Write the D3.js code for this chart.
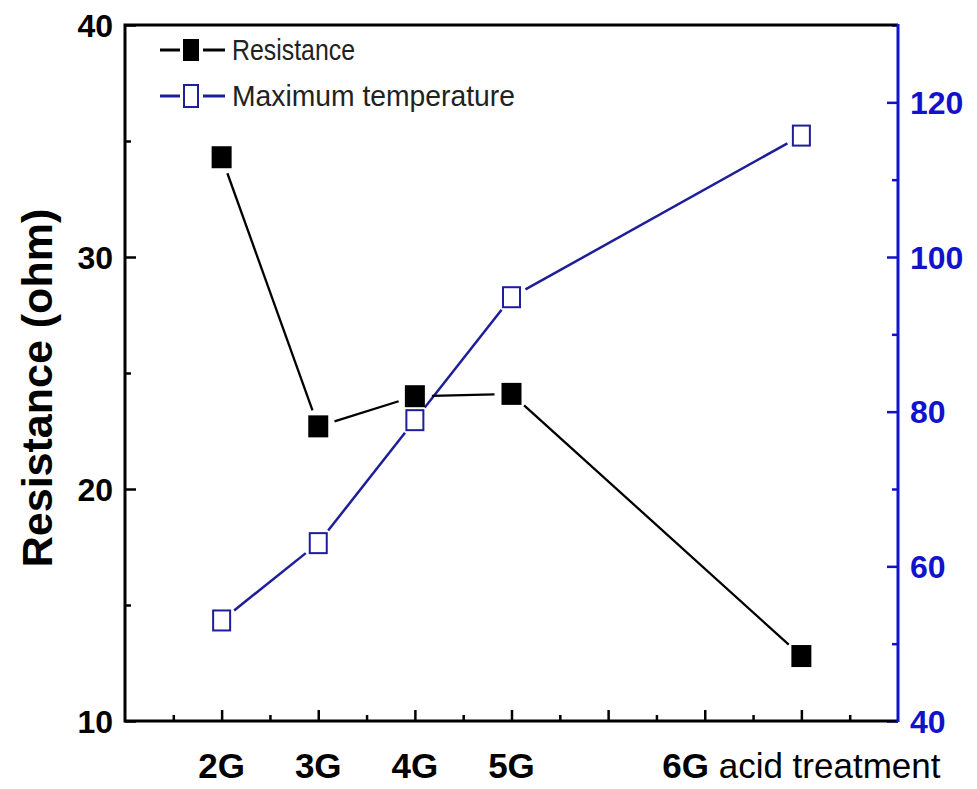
<!DOCTYPE html>
<html>
<head>
<meta charset="utf-8">
<script src="https://cdn.jsdelivr.net/npm/d3@7"></script>
<style>
  body { margin: 0; background: #fff; }
  text { font-family: "Liberation Sans", Arial, sans-serif; }
</style>
</head>
<body>
<script>
// data
var samples = ["2G", "3G", "4G", "5G", "6G"];
var samplePos = [2, 3, 4, 5, 8];
var resistance = [34.3, 22.7, 24.0, 24.1, 12.8];
var maxTemp = [53, 63, 78.9, 94.8, 115.7];
var leftTicks = [10, 20, 30, 40];
var rightTicks = [40, 60, 80, 100, 120];

var W = 977, H = 789;
var margin = { top: 25, right: 79, bottom: 68, left: 125 },
    width = W - margin.left - margin.right,
    height = H - margin.top - margin.bottom;

var blueAxis = "#1212cc", blueLine = "#1e1e9a";

var svg = d3.select("body").append("svg")
    .attr("width", W)
    .attr("height", H);

var g = svg.append("g")
    .attr("transform", "translate(" + margin.left + "," + margin.top + ")");

var xScale = d3.scaleLinear().domain([1, 9]).range([0, width]);
var yLeft = d3.scaleLinear().domain([10, 40]).range([height, 0]);
var yRight = d3.scaleLinear().domain([40, 130]).range([height, 0]);

// minor ticks first, then major ticks with labels
function minor(axis, vals, len) {
    return axis.tickValues(vals).tickSize(len).tickFormat("");
}

var xMinor = d3.range(1.5, 9, 1);
var xMajor = d3.range(2, 9, 1);

g.append("g").attr("class", "xminor")
    .attr("transform", "translate(0," + height + ")")
    .call(minor(d3.axisTop(xScale), xMinor, 6));
g.append("g").attr("class", "xmajor")
    .attr("transform", "translate(0," + height + ")")
    .call(d3.axisTop(xScale).tickValues(xMajor).tickSize(11).tickFormat(""));

g.append("g").attr("class", "lminor")
    .call(minor(d3.axisRight(yLeft), [15, 25, 35], 6));
g.append("g").attr("class", "lmajor")
    .call(d3.axisRight(yLeft).tickValues(leftTicks).tickSize(11).tickFormat(""));

g.append("g").attr("class", "rminor")
    .attr("transform", "translate(" + width + ",0)")
    .call(minor(d3.axisLeft(yRight), [50, 70, 90, 110, 130], 6));
g.append("g").attr("class", "rmajor")
    .attr("transform", "translate(" + width + ",0)")
    .call(d3.axisLeft(yRight).tickValues(rightTicks).tickSize(11).tickFormat(""));

g.selectAll(".domain").remove();
g.selectAll(".tick line").attr("stroke-width", 2.5);
g.selectAll(".xminor .tick line, .xmajor .tick line, .lminor .tick line, .lmajor .tick line").attr("stroke", "#000");
g.selectAll(".rminor .tick line, .rmajor .tick line").attr("stroke", blueAxis);

// frame
g.append("path")
    .attr("d", "M" + width + ",0H0V" + height + "H" + width)
    .attr("fill", "none").attr("stroke", "#000").attr("stroke-width", 3);
g.append("line")
    .attr("x1", width).attr("x2", width).attr("y1", -1).attr("y2", height + 1)
    .attr("stroke", blueAxis).attr("stroke-width", 3);

// tick labels
g.selectAll(".ltl").data(leftTicks).enter().append("text")
    .attr("x", -12).attr("y", function (d) { return yLeft(d); })
    .attr("dy", "0.36em").attr("text-anchor", "end")
    .attr("font-size", 32).attr("font-weight", "bold")
    .text(function (d) { return d; });

g.selectAll(".rtl").data(rightTicks).enter().append("text")
    .attr("x", width + 12).attr("y", function (d) { return yRight(d); })
    .attr("dy", "0.36em").attr("text-anchor", "start")
    .attr("font-size", 32).attr("font-weight", "bold").attr("fill", blueAxis)
    .text(function (d) { return d; });

var xl = g.selectAll(".xtl").data(samples).enter().append("text")
    .attr("x", function (d, i) { return xScale(samplePos[i]); })
    .attr("y", height + 57)
    .attr("text-anchor", "middle")
    .attr("font-size", 35);
xl.append("tspan").attr("font-weight", "bold").text(function (d) { return d; });
xl.filter(function (d) { return d === "6G"; })
    .append("tspan").attr("font-weight", "normal").text(" acid treatment");

svg.append("text")
    .attr("transform", "translate(52," + (margin.top + 363) + ") rotate(-90)")
    .attr("text-anchor", "middle")
    .attr("font-size", 43).attr("font-weight", "bold")
    .text("Resistance (ohm)");

// lines with a gap around each marker
function gapSegments(xs, ys, gap) {
    var segs = [];
    for (var i = 0; i < xs.length - 1; i++) {
        var dx = xs[i + 1] - xs[i], dy = ys[i + 1] - ys[i];
        var L = Math.sqrt(dx * dx + dy * dy);
        var ux = dx / L, uy = dy / L;
        segs.push([xs[i] + ux * gap, ys[i] + uy * gap, xs[i + 1] - ux * gap, ys[i + 1] - uy * gap]);
    }
    return segs;
}

var px = samplePos.map(function (d) { return xScale(d); });
var tSeg = gapSegments(px, maxTemp.map(function (d) { return yRight(d); }), 16);
var rSeg = gapSegments(px, resistance.map(function (d) { return yLeft(d); }), 17);

g.selectAll(".tseg").data(tSeg).enter().append("line")
    .attr("x1", function (d) { return d[0]; }).attr("y1", function (d) { return d[1]; })
    .attr("x2", function (d) { return d[2]; }).attr("y2", function (d) { return d[3]; })
    .attr("stroke", blueLine).attr("stroke-width", 2.5);

g.selectAll(".rseg").data(rSeg).enter().append("line")
    .attr("x1", function (d) { return d[0]; }).attr("y1", function (d) { return d[1]; })
    .attr("x2", function (d) { return d[2]; }).attr("y2", function (d) { return d[3]; })
    .attr("stroke", "#000").attr("stroke-width", 2.3);

g.selectAll(".tmark").data(maxTemp).enter().append("rect")
    .attr("x", function (d, i) { return px[i] - 8.5; })
    .attr("y", function (d) { return yRight(d) - 10; })
    .attr("width", 17).attr("height", 20)
    .attr("fill", "#fff").attr("stroke", blueLine).attr("stroke-width", 2);

g.selectAll(".rmark").data(resistance).enter().append("rect")
    .attr("x", function (d, i) { return px[i] - 10; })
    .attr("y", function (d) { return yLeft(d) - 11; })
    .attr("width", 20).attr("height", 22)
    .attr("fill", "#000");

// legend
var legend = svg.append("g").attr("transform", "translate(160,0)");
var items = [
    { name: "Resistance", y: 50, color: "#000", filled: true, len: 123 },
    { name: "Maximum temperature", y: 96, color: blueLine, filled: false, len: 283 }
];
items.forEach(function (it) {
    legend.append("line").attr("x1", 0).attr("x2", 20)
        .attr("y1", it.y).attr("y2", it.y)
        .attr("stroke", it.color).attr("stroke-width", 3);
    legend.append("line").attr("x1", 43).attr("x2", 65)
        .attr("y1", it.y).attr("y2", it.y)
        .attr("stroke", it.color).attr("stroke-width", 3);
    legend.append("rect")
        .attr("x", it.filled ? 23 : 24).attr("y", it.y - 11)
        .attr("width", it.filled ? 16 : 14).attr("height", 22)
        .attr("fill", it.filled ? "#000" : "#fff")
        .attr("stroke", it.filled ? "none" : it.color).attr("stroke-width", 2);
    legend.append("text")
        .attr("x", 72).attr("y", it.y + 10)
        .attr("font-size", 29)
        .style("font-family", "'Liberation Sans Narrow', 'Liberation Sans', sans-serif")
        .attr("fill", "#222")
        .attr("textLength", it.len).attr("lengthAdjust", "spacingAndGlyphs")
        .text(it.name);
});
</script>
</body>
</html>
